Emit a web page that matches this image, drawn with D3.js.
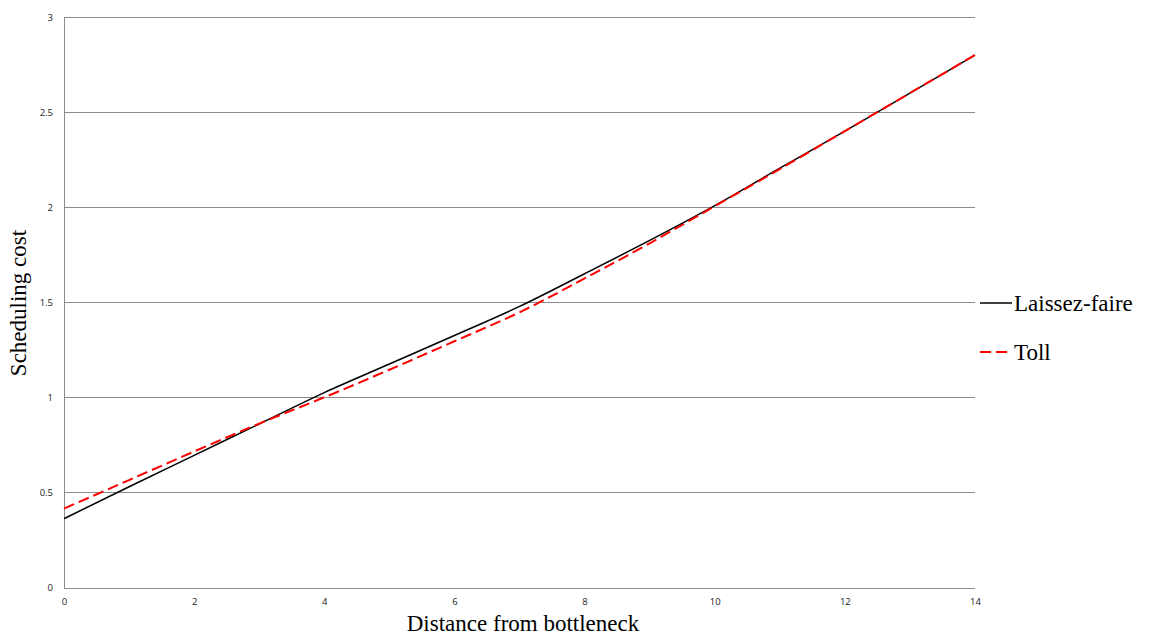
<!DOCTYPE html>
<html>
<head>
<meta charset="utf-8">
<script src="https://cdn.jsdelivr.net/npm/d3@7"></script>
<style>
  html, body { margin: 0; padding: 0; background: #fff; }
  svg { display: block; }
</style>
</head>
<body>
<svg id="chart" width="1149" height="641"></svg>
<script>
// ---- data ----
const distance = [0, 1, 2, 3, 4, 5, 6, 7, 8, 9, 10, 11, 12, 13, 14];
const laissezFaire = [0.362, 0.53, 0.695, 0.86, 1.025, 1.175, 1.325, 1.478, 1.65, 1.825, 2.008, 2.205, 2.40, 2.60, 2.80];
const toll = [0.415, 0.565, 0.715, 0.862, 1.0, 1.145, 1.295, 1.447, 1.625, 1.81, 2.005, 2.20, 2.40, 2.60, 2.80];
const xTicks = [0, 2, 4, 6, 8, 10, 12, 14];
const yTicks = [0, 0.5, 1, 1.5, 2, 2.5, 3];
const seriesNames = ["Laissez-faire", "Toll"];

// ---- layout ----
const svg = d3.select("#chart");
const plot = { left: 64, right: 975, top: 17, bottom: 587.5 };

const x = d3.scaleLinear().domain([0, 14]).range([plot.left, plot.right]);
const y = d3.scaleLinear().domain([0, 3]).range([plot.bottom, plot.top]);

// gridlines
svg.append("g")
  .selectAll("line")
  .data(yTicks)
  .join("line")
  .attr("x1", plot.left).attr("x2", plot.right)
  .attr("y1", d => Math.round(y(d)) + 0.5).attr("y2", d => Math.round(y(d)) + 0.5)
  .attr("stroke", "#8c8c8c").attr("stroke-width", 1);

// left axis line
svg.append("line")
  .attr("x1", plot.left + 0.5).attr("x2", plot.left + 0.5)
  .attr("y1", plot.top).attr("y2", Math.round(plot.bottom) + 0.5)
  .attr("stroke", "#8c8c8c").attr("stroke-width", 1);

// y axis labels
const yAxis = d3.axisLeft(y).tickValues(yTicks).tickSize(0).tickPadding(11).tickFormat(d3.format("~g"));
const gy = svg.append("g").attr("transform", `translate(${plot.left},0)`).call(yAxis);
gy.select(".domain").remove();
gy.selectAll("text").attr("font-family", "'Open Sans', 'DejaVu Sans', sans-serif").attr("font-size", 9.5).attr("fill", "#222");

// x axis labels
const xAxis = d3.axisBottom(x).tickValues(xTicks).tickSize(0).tickPadding(11).tickFormat(d3.format("~g"));
const gx = svg.append("g").attr("transform", `translate(0,${plot.bottom})`).call(xAxis);
gx.select(".domain").remove();
gx.selectAll("text").attr("font-family", "'Open Sans', 'DejaVu Sans', sans-serif").attr("font-size", 9.5).attr("fill", "#222");

// lines
const lineGen = vals => d3.line().curve(d3.curveMonotoneX).x((d, i) => x(distance[i])).y(d => y(d))(vals);

svg.append("path")
  .attr("d", lineGen(laissezFaire))
  .attr("fill", "none").attr("stroke", "#000").attr("stroke-width", 1.5);

svg.append("path")
  .attr("d", lineGen(toll))
  .attr("fill", "none").attr("stroke", "#ff0000").attr("stroke-width", 2)
  .attr("stroke-dasharray", "11,5");

// axis titles
svg.append("text")
  .attr("x", 523).attr("y", 631)
  .attr("text-anchor", "middle")
  .attr("font-family", "'Liberation Serif', 'Times New Roman', serif")
  .attr("font-size", 23).attr("fill", "#000")
  .text("Distance from bottleneck");

svg.append("text")
  .attr("transform", "translate(26,303) rotate(-90)")
  .attr("text-anchor", "middle")
  .attr("font-family", "'Liberation Serif', 'Times New Roman', serif")
  .attr("font-size", 23).attr("fill", "#000")
  .text("Scheduling cost");

// legend
const legend = svg.append("g");
const legendY = [303, 352];
legend.append("line")
  .attr("x1", 980).attr("x2", 1012).attr("y1", legendY[0]).attr("y2", legendY[0])
  .attr("stroke", "#000").attr("stroke-width", 1.5);
legend.append("line")
  .attr("x1", 980).attr("x2", 1012).attr("y1", legendY[1]).attr("y2", legendY[1])
  .attr("stroke", "#ff0000").attr("stroke-width", 2).attr("stroke-dasharray", "11,5");
legend.selectAll("text")
  .data(seriesNames)
  .join("text")
  .attr("x", 1014).attr("y", (d, i) => legendY[i] + 8)
  .attr("font-family", "'Liberation Serif', 'Times New Roman', serif")
  .attr("font-size", 23).attr("fill", "#000")
  .text(d => d);
</script>
</body>
</html>
